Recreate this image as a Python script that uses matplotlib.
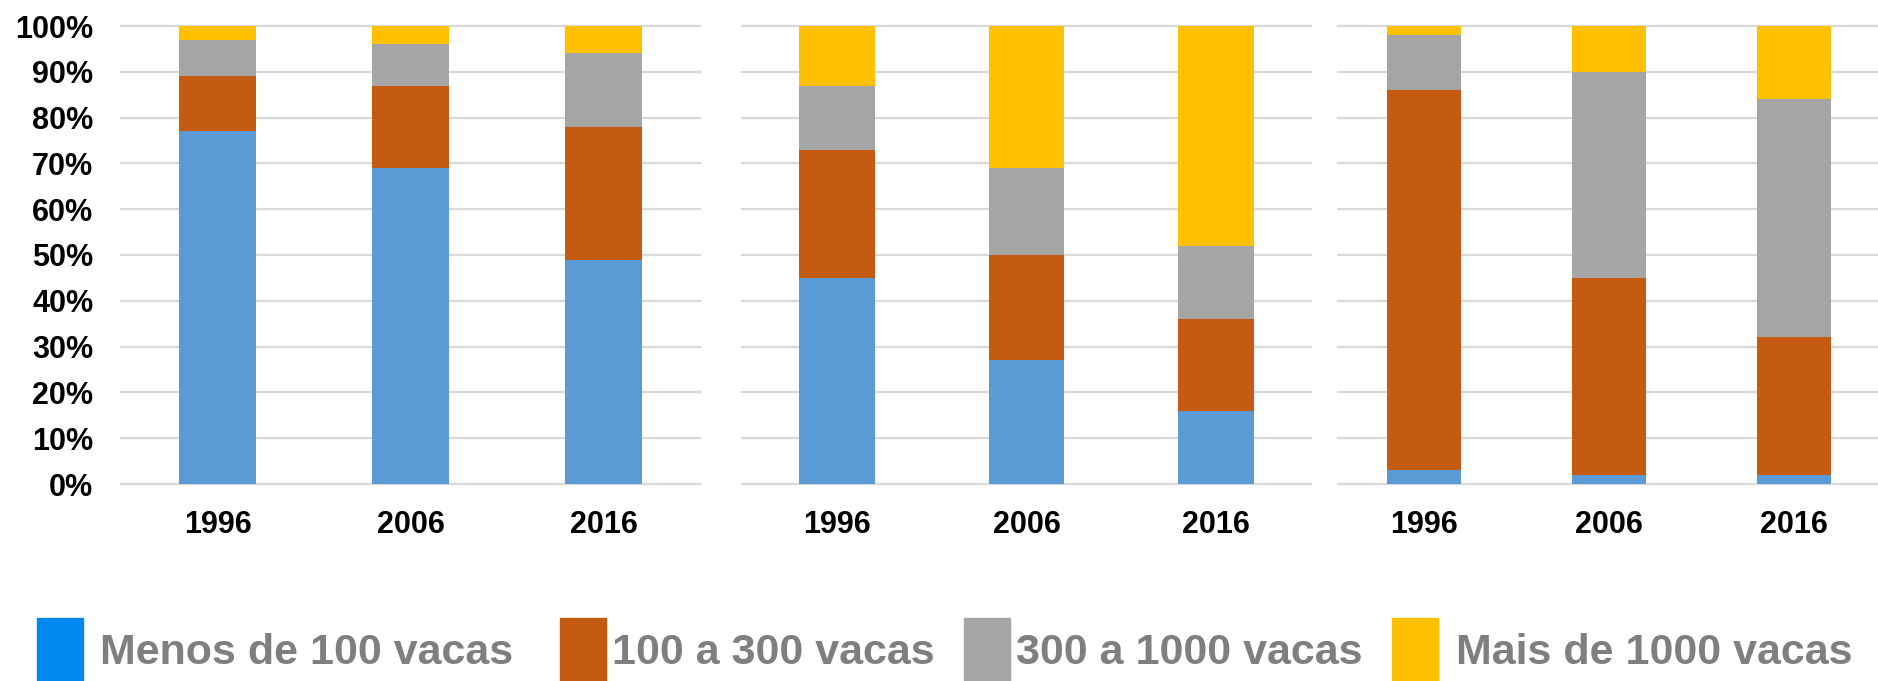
import matplotlib
matplotlib.use("Agg")
import matplotlib.pyplot as plt
from matplotlib.patches import Rectangle

plt.rcParams['font.family'] = ['Liberation Sans', 'DejaVu Sans']
plt.rcParams['font.weight'] = 'bold'

years = ["1996", "2006", "2016"]
series = ["Menos de 100 vacas", "100 a 300 vacas", "300 a 1000 vacas", "Mais de 1000 vacas"]

# share of each herd-size class, one list per panel
panel1_menos = [77, 69, 49]
panel1_100_300 = [12, 18, 29]
panel1_300_1000 = [8, 9, 16]
panel1_mais = [3, 4, 6]

panel2_menos = [45, 27, 16]
panel2_100_300 = [28, 23, 20]
panel2_300_1000 = [14, 19, 16]
panel2_mais = [13, 31, 48]

panel3_menos = [3, 2, 2]
panel3_100_300 = [83, 43, 30]
panel3_300_1000 = [12, 45, 52]
panel3_mais = [2, 10, 16]

yticks = [0, 10, 20, 30, 40, 50, 60, 70, 80, 90, 100]

bar_colors = ['#5B9BD5', '#C55A11', '#A5A5A5', '#FFC000']
legend_colors = ['#0088EE', '#C55A11', '#A5A5A5', '#FFC000']

panels = [
    [panel1_menos, panel1_100_300, panel1_300_1000, panel1_mais],
    [panel2_menos, panel2_100_300, panel2_300_1000, panel2_mais],
    [panel3_menos, panel3_100_300, panel3_300_1000, panel3_mais],
]

W, H = 1878, 681
fig = plt.figure(figsize=(W / 100, H / 100), dpi=100)

# axes boxes in pixels: left, right, and x limits
boxes = [(121, 700, -0.5, 2.5), (742, 1311, -0.5, 2.5), (1338, 1878, -0.465, 2.454)]
y0, y1 = 484, 26

for i, (vals, (l, r, xa, xb)) in enumerate(zip(panels, boxes)):
    ax = fig.add_axes([l / W, (H - y0) / H, (r - l) / W, (y0 - y1) / H])
    bottom = [0, 0, 0]
    for v, c in zip(vals, bar_colors):
        ax.bar(years, v, 0.4, bottom=bottom, color=c, zorder=3)
        bottom = [b + x for b, x in zip(bottom, v)]
    ax.set_xlim(xa, xb)
    ax.set_ylim(0, 100)
    for t in yticks:
        ax.axhline(t, color='#D9D9D9', lw=1.6, zorder=1, clip_on=False)
    for s in ax.spines.values():
        s.set_visible(False)
    ax.set_yticks(yticks)
    ax.tick_params(length=0)
    ax.tick_params(axis='x', pad=19, labelsize=22)
    if i == 0:
        ax.set_yticklabels([f"{t}%" for t in yticks], fontsize=22)
        ax.tick_params(axis='y', pad=20)
    else:
        ax.set_yticklabels([])

# legend row
key_x = [37, 560, 964, 1392]
text_x = [100, 612, 1016, 1456]
for kx, tx, c, name in zip(key_x, text_x, legend_colors, series):
    fig.patches.append(Rectangle((kx / W, 0), 46 / W, (H - 618) / H,
                                 transform=fig.transFigure, color=c, figure=fig))
    fig.text(tx / W, (H - 664) / H, name, fontsize=31, color='#7F7F7F',
             ha='left', va='baseline')

fig.savefig("out.png", dpi=100)
